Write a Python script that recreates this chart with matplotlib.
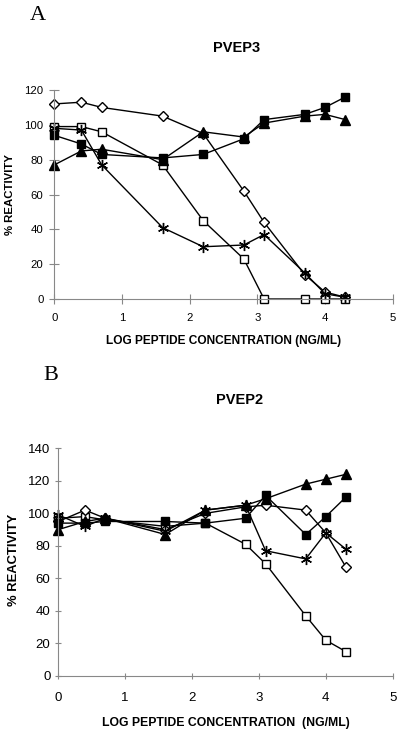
import matplotlib
matplotlib.use("Agg")
import matplotlib.pyplot as plt

x_log = [0, 0.4, 0.7, 1.6, 2.2, 2.8, 3.1, 3.7, 4.0, 4.3]

# Panel A (PVEP3)
a_diamond = [112, 113, 110, 105, 95, 62, 44, 14, 4, 1]
a_triangle = [77, 85, 86, 80, 96, 93, 101, 105, 106, 103]
a_fsquare = [94, 89, 83, 81, 83, 92, 103, 106, 110, 116]
a_osquare = [99, 99, 96, 77, 45, 23, 0, 0, 0, 0]
a_star = [98, 97, 77, 41, 30, 31, 37, 15, 3, 1]

# Panel B (PVEP2)
b_triangle = [90, 95, 97, 87, 102, 105, 109, 118, 121, 124]
b_fsquare = [94, 94, 95, 95, 94, 97, 111, 87, 98, 110]
b_osquare = [97, 98, 96, 92, 94, 81, 69, 37, 22, 15]
b_diamond = [95, 102, 97, 90, 100, 104, 105, 102, 88, 67]
b_star = [99, 92, 97, 89, 102, 105, 77, 72, 88, 78]

plt.rcParams['font.family'] = ['Liberation Sans', 'DejaVu Sans']

W, H = 404, 738
fig = plt.figure(figsize=(W / 100, H / 100), dpi=100)

ast = (6, 2, 0)


def style(ax, ymax, ystep, tsize, tlen, ypad, xpad, ylsize, xlsize, xltext,
          yl_x, yl_y, xl_y, box):
    ax.set_xlim(0, 5)
    ax.set_ylim(0, ymax)
    ax.set_xticks(range(0, 6))
    ax.set_yticks(range(0, ymax + 1, ystep))
    for s in ['top', 'right']:
        ax.spines[s].set_visible(False)
    for s in ['left', 'bottom']:
        ax.spines[s].set_color('#888888')
        ax.spines[s].set_linewidth(0.8)
    ax.tick_params(direction='inout', length=tlen, width=0.8, color='#888888',
                   labelsize=tsize)
    ax.tick_params(axis='y', pad=ypad)
    ax.tick_params(axis='x', pad=xpad)
    ax.set_ylabel('% REACTIVITY', fontsize=ylsize, fontweight='bold',
                  va='center')
    ax.set_xlabel(xltext, fontsize=xlsize, fontweight='bold', va='center')
    x0, y0, x1, y1 = box
    ax.yaxis.set_label_coords((yl_x - x0) / (x1 - x0), (y1 - yl_y) / (y1 - y0))
    ax.xaxis.set_label_coords(0.5, (y1 - xl_y) / (y1 - y0))


def plot_series(ax, data):
    for y, mk, fc, ms in data:
        ax.plot(x_log, y, color='black', lw=1.0, marker=mk, ms=ms,
                mfc=fc, mec='black', mew=1.0, clip_on=False)


def add_axes(box):
    x0, y0, x1, y1 = box  # pixel coords: left, top, right, bottom
    return fig.add_axes([x0 / W, 1 - y1 / H, (x1 - x0) / W, (y1 - y0) / H])


boxA = (54.3, 90, 392.7, 299)
axA = add_axes(boxA)
plot_series(axA, [
    (a_diamond, 'D', 'white', 5),
    (a_osquare, 's', 'white', 6),
    (a_star, ast, 'none', 8),
    (a_triangle, '^', 'black', 6.5),
    (a_fsquare, 's', 'black', 6),
])
style(axA, 120, 20, 8.2, 6.5, 4.5, 6.5, 8.2, 8.6,
      'LOG PEPTIDE CONCENTRATION (NG/ML)', 10.5, 194, 340.7, boxA)

boxB = (58.3, 448.3, 392.7, 676)
axB = add_axes(boxB)
plot_series(axB, [
    (b_osquare, 's', 'white', 6),
    (b_diamond, 'D', 'white', 5),
    (b_star, ast, 'none', 8),
    (b_triangle, '^', 'black', 6.5),
    (b_fsquare, 's', 'black', 6),
])
style(axB, 140, 20, 9.5, 5, 3.2, 9, 9.4, 8.8,
      'LOG PEPTIDE CONCENTRATION  (NG/ML)', 14, 560, 722.7, boxB)

fig.text(237 / W, 1 - 48 / H, 'PVEP3', fontsize=10.5, fontweight='bold',
         ha='center', va='center')
fig.text(240 / W, 1 - 400.5 / H, 'PVEP2', fontsize=10.5, fontweight='bold',
         ha='center', va='center')

fig.text(37.5 / W, 1 - 16 / H, 'A', fontsize=16, family='Liberation Serif',
         ha='center', va='center')
fig.text(51 / W, 1 - 375.5 / H, 'B', fontsize=16, family='Liberation Serif',
         ha='center', va='center')

fig.savefig('out.png', dpi=100)
